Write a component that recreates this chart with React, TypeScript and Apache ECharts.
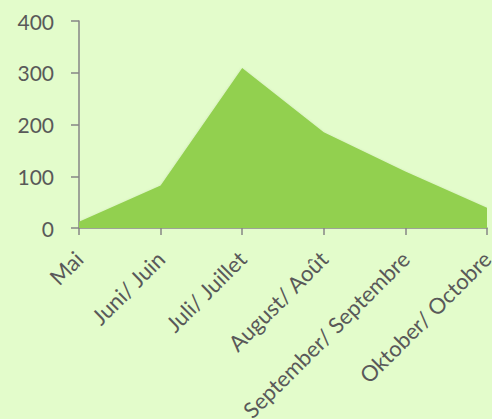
import React, { useEffect, useRef } from "react";
import * as echarts from "echarts";

const categories = [
  "Mai",
  "Juni/ Juin",
  "Juli/ Juillet",
  "August/ Août",
  "September/ Septembre",
  "Oktober/ Octobre",
];
const values = [12, 82, 309, 185, 109, 39];
const yTicks = { min: 0, max: 400, interval: 100 };

export default function App() {
  const ref = useRef<HTMLDivElement>(null);
  useEffect(() => {
    if (!ref.current) return;
    const chart = echarts.init(ref.current, null, { renderer: "svg" });
    chart.setOption({
      animation: false,
      backgroundColor: "#e3fccb",
      grid: {
        left: 79,
        right: 5,
        top: 21,
        bottom: 191,
        outerBoundsMode: "none",
        containLabel: false,
      },
      xAxis: {
        type: "category",
        data: categories,
        boundaryGap: false,
        axisLine: { show: true, lineStyle: { color: "#868686", width: 1.5 } },
        axisTick: { show: true, length: 7, lineStyle: { color: "#868686", width: 1.5 }, alignWithLabel: true },
        axisLabel: {
          rotate: 45,
          interval: 0,
          margin: 27,
          color: "#595959",
          fontFamily: "Lato",
          fontSize: 22,
        },
        splitLine: { show: false },
      },
      yAxis: {
        type: "value",
        min: yTicks.min,
        max: yTicks.max,
        interval: yTicks.interval,
        axisLine: { show: true, lineStyle: { color: "#868686", width: 1.5 } },
        axisTick: { show: true, length: 8, lineStyle: { color: "#868686", width: 1.5 } },
        axisLabel: {
          margin: 25,
          color: "#595959",
          fontFamily: "Lato",
          fontSize: 21,
        },
        splitLine: { show: false },
      },
      series: [
        {
          type: "line",
          data: values,
          showSymbol: false,
          symbol: "none",
          lineStyle: { width: 0 },
          areaStyle: {
            color: "#92d050",
            opacity: 1,
            shadowColor: "rgba(0,0,0,0.18)",
            shadowBlur: 3,
            shadowOffsetY: 1,
          },
          z: 1,
        },
      ],
    });
    return () => chart.dispose();
  }, []);
  return (
    <div
      ref={ref}
      style={{ position: "fixed", left: 0, top: 0, width: 492, height: 419 }}
    />
  );
}
